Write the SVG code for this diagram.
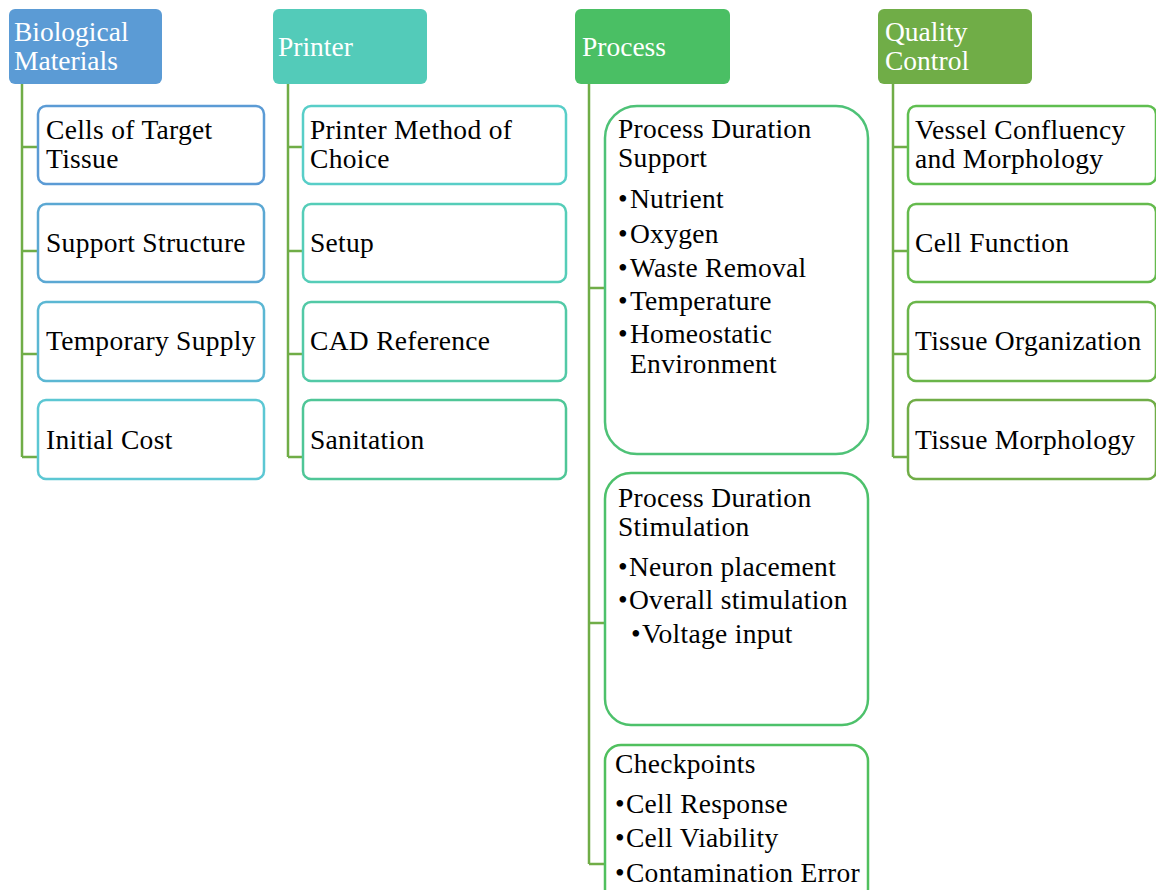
<svg xmlns="http://www.w3.org/2000/svg" width="1156" height="890" viewBox="0 0 1156 890">
  <style>
    text { font-family: "Liberation Serif", "Times New Roman", serif; font-size: 27.5px; }
    .hd { fill: #ffffff; }
    .tx { fill: #000000; letter-spacing: 0.3px; }
    .box { fill: #ffffff; stroke-width: 2.5; }
    .conn { fill: none; stroke: #70AD47; stroke-width: 2.5; }
  </style>
  <rect width="1156" height="890" fill="#ffffff"/>

  <!-- connectors -->
  <g id="connectors" class="conn">
    <path d="M22,84 V457 M22,147 H38 M22,251 H38 M22,354 H38 M22,457 H38"/>
    <path d="M288,84 V457 M288,147 H303 M288,251 H303 M288,354 H303 M288,457 H303"/>
    <path d="M589,84 V864 M589,288 H605 M589,623 H605 M589,864 H605"/>
    <path d="M893,84 V457 M893,147 H908 M893,251 H908 M893,354 H908 M893,457 H908"/>
  </g>

  <!-- column headers -->
  <g id="hdr-bio">
    <rect x="9" y="9" width="153" height="75" rx="6" fill="#5B9BD5"/>
    <text class="hd" x="14" y="41">Biological</text>
    <text class="hd" x="14" y="70">Materials</text>
  </g>
  <g id="hdr-printer">
    <rect x="273" y="9" width="154" height="75" rx="6" fill="#53CBB9"/>
    <text class="hd" x="278" y="56">Printer</text>
  </g>
  <g id="hdr-process">
    <rect x="575" y="9" width="155" height="75" rx="6" fill="#4ABF64"/>
    <text class="hd" x="582" y="56">Process</text>
  </g>
  <g id="hdr-quality">
    <rect x="878" y="9" width="154" height="75" rx="6" fill="#70AD47"/>
    <text class="hd" x="885" y="41">Quality</text>
    <text class="hd" x="885" y="70">Control</text>
  </g>

  <!-- Biological Materials items -->
  <g id="bio-cells">
    <rect class="box" x="38" y="106" width="226" height="78" rx="8" stroke="#5B9BD5"/>
    <text class="tx" x="46" y="139">Cells of Target</text>
    <text class="tx" x="46" y="168">Tissue</text>
  </g>
  <g id="bio-support">
    <rect class="box" x="38" y="204" width="226" height="78" rx="8" stroke="#5BA8D3"/>
    <text class="tx" x="46" y="252">Support Structure</text>
  </g>
  <g id="bio-supply">
    <rect class="box" x="38" y="302" width="226" height="79" rx="8" stroke="#5BB7D3"/>
    <text class="tx" x="46" y="350">Temporary Supply</text>
  </g>
  <g id="bio-cost">
    <rect class="box" x="38" y="400" width="226" height="79" rx="8" stroke="#5CC7D3"/>
    <text class="tx" x="46" y="449">Initial Cost</text>
  </g>

  <!-- Printer items -->
  <g id="prn-method">
    <rect class="box" x="303" y="106" width="263" height="78" rx="8" stroke="#58CEC8"/>
    <text class="tx" x="310" y="139">Printer Method of</text>
    <text class="tx" x="310" y="168">Choice</text>
  </g>
  <g id="prn-setup">
    <rect class="box" x="303" y="204" width="263" height="78" rx="8" stroke="#55CDB8"/>
    <text class="tx" x="310" y="252">Setup</text>
  </g>
  <g id="prn-cad">
    <rect class="box" x="303" y="302" width="263" height="79" rx="8" stroke="#52C9A6"/>
    <text class="tx" x="310" y="350">CAD Reference</text>
  </g>
  <g id="prn-sanitation">
    <rect class="box" x="303" y="400" width="263" height="79" rx="8" stroke="#4FC697"/>
    <text class="tx" x="310" y="449">Sanitation</text>
  </g>

  <!-- Process items -->
  <g id="proc-support">
    <rect class="box" x="605" y="106" width="263" height="348" rx="32" stroke="#4EC277"/>
    <text class="tx" x="618" y="138">Process Duration</text>
    <text class="tx" x="618" y="167">Support</text>
    <text class="tx" x="618" y="208">•<tspan dx="2">Nutrient</tspan></text>
    <text class="tx" x="618" y="243">•<tspan dx="2">Oxygen</tspan></text>
    <text class="tx" x="618" y="277">•<tspan dx="2">Waste Removal</tspan></text>
    <text class="tx" x="618" y="310">•<tspan dx="2">Temperature</tspan></text>
    <text class="tx" x="618" y="343">•<tspan dx="2">Homeostatic</tspan></text>
    <text class="tx" x="630" y="373">Environment</text>
  </g>
  <g id="proc-stimulation">
    <rect class="box" x="605" y="473" width="263" height="252" rx="26" stroke="#4DC16B"/>
    <text class="tx" x="618" y="507">Process Duration</text>
    <text class="tx" x="618" y="536">Stimulation</text>
    <text class="tx" x="618" y="576">•<tspan dx="1">Neuron placement</tspan></text>
    <text class="tx" x="618" y="609">•<tspan dx="1">Overall stimulation</tspan></text>
    <text class="tx" x="631" y="643">•<tspan dx="1">Voltage input</tspan></text>
  </g>
  <g id="proc-checkpoints">
    <rect class="box" x="605" y="745" width="263" height="160" rx="16" stroke="#50C05E"/>
    <text class="tx" x="615" y="773">Checkpoints</text>
    <text class="tx" x="615" y="813">•<tspan dx="1">Cell Response</tspan></text>
    <text class="tx" x="615" y="847">•<tspan dx="1">Cell Viability</tspan></text>
    <text class="tx" x="615" y="882">•<tspan dx="1">Contamination Error</tspan></text>
  </g>

  <!-- Quality Control items -->
  <g id="qc-vessel">
    <rect class="box" x="908" y="106" width="248" height="78" rx="8" stroke="#5FBE50"/>
    <text class="tx" x="915" y="139">Vessel Confluency</text>
    <text class="tx" x="915" y="168">and Morphology</text>
  </g>
  <g id="qc-function">
    <rect class="box" x="908" y="204" width="248" height="78" rx="8" stroke="#65BA4D"/>
    <text class="tx" x="915" y="252">Cell Function</text>
  </g>
  <g id="qc-organization">
    <rect class="box" x="908" y="302" width="248" height="79" rx="8" stroke="#6AB54A"/>
    <text class="tx" x="915" y="350">Tissue Organization</text>
  </g>
  <g id="qc-morphology">
    <rect class="box" x="908" y="400" width="248" height="79" rx="8" stroke="#70AD47"/>
    <text class="tx" x="915" y="449">Tissue Morphology</text>
  </g>
</svg>
